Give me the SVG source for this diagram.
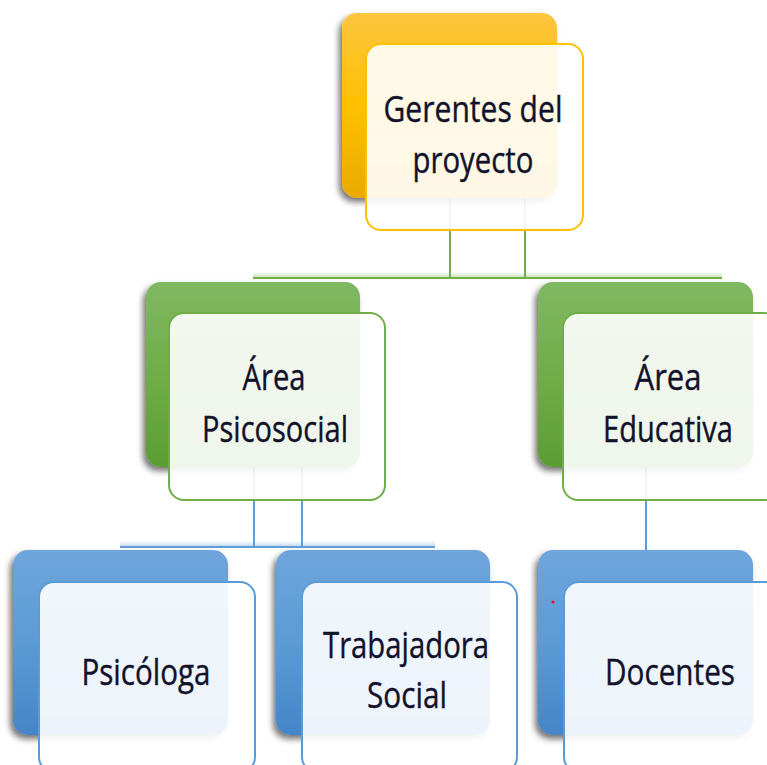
<svg xmlns="http://www.w3.org/2000/svg" width="767" height="765" viewBox="0 0 767 765">
  <defs>
    <linearGradient id="gOrange" x1="0" y1="0" x2="0" y2="1">
      <stop offset="0" stop-color="#fdc540"/>
      <stop offset="0.5" stop-color="#fec000"/>
      <stop offset="1" stop-color="#e9a900"/>
    </linearGradient>
    <linearGradient id="gGreen" x1="0" y1="0" x2="0" y2="1">
      <stop offset="0" stop-color="#80b862"/>
      <stop offset="0.5" stop-color="#70ad47"/>
      <stop offset="1" stop-color="#5c9d33"/>
    </linearGradient>
    <linearGradient id="gBlue" x1="0" y1="0" x2="0" y2="1">
      <stop offset="0" stop-color="#6fa5db"/>
      <stop offset="0.5" stop-color="#5b9bd5"/>
      <stop offset="1" stop-color="#4585c8"/>
    </linearGradient>
    <linearGradient id="glowG" x1="0" y1="0" x2="0" y2="1">
      <stop offset="0" stop-color="#70ad47" stop-opacity="0"/>
      <stop offset="1" stop-color="#70ad47" stop-opacity="0.35"/>
    </linearGradient>
    <linearGradient id="glowB" x1="0" y1="0" x2="0" y2="1">
      <stop offset="0" stop-color="#5b9bd5" stop-opacity="0"/>
      <stop offset="1" stop-color="#5b9bd5" stop-opacity="0.35"/>
    </linearGradient>
    <filter id="shadow" x="-20%" y="-20%" width="140%" height="140%">
      <feDropShadow dx="-3" dy="4" stdDeviation="3" flood-color="#000" flood-opacity="0.55"/>
    </filter>
  </defs>
  <style>
    .back { stroke: none; filter: url(#shadow); }
    .front { fill: #ffffff; fill-opacity: 0.9; stroke-width: 2; }
    .fo { stroke: #fec000; }
    .fg { stroke: #70ad47; }
    .fb { stroke: #5b9bd5; }
    .lbl { font-family: "Open Sans", "Noto Sans", "Liberation Sans", sans-serif; font-size: 37px; fill: #12122a; stroke: #12122a; stroke-width: 0.4; text-anchor: middle; }
    .cg { stroke: #72ae4c; stroke-width: 2; fill: none; }
    .cb { stroke: #5f9ed6; stroke-width: 2; fill: none; }
  </style>
  <rect width="767" height="765" fill="#ffffff"/>

  <g id="connectors">
    <path class="cg" d="M450,197 V278 M525,197 V278"/>
    <rect x="253" y="272" width="469" height="5" fill="url(#glowG)"/>
    <path class="cg" d="M253,278 H722"/>
    <path class="cb" d="M254,467 V547 M302,467 V547"/>
    <rect x="120" y="541" width="315" height="5" fill="url(#glowB)"/>
    <path class="cb" d="M120,547 H435"/>
    <path class="cb" d="M646,467 V551"/>
  </g>

  <g id="gerentes">
    <rect class="back" x="342" y="13" width="215" height="185" rx="15" fill="url(#gOrange)"/>
    <rect class="front fo" x="366" y="44" width="217" height="186" rx="15"/>
    <text class="lbl" x="473" y="122" textLength="179" lengthAdjust="spacingAndGlyphs">Gerentes del</text>
    <text class="lbl" x="473" y="173" textLength="121" lengthAdjust="spacingAndGlyphs">proyecto</text>
  </g>

  <g id="area-psicosocial">
    <rect class="back" x="146" y="282" width="214" height="185" rx="15" fill="url(#gGreen)"/>
    <rect class="front fg" x="169" y="313" width="216" height="187" rx="15"/>
    <text class="lbl" x="274" y="390" textLength="63" lengthAdjust="spacingAndGlyphs">Área</text>
    <text class="lbl" x="275" y="442" textLength="146" lengthAdjust="spacingAndGlyphs">Psicosocial</text>
  </g>

  <g id="area-educativa">
    <rect class="back" x="538" y="282" width="215" height="185" rx="15" fill="url(#gGreen)"/>
    <rect class="front fg" x="563" y="313" width="216" height="187" rx="15"/>
    <text class="lbl" x="668" y="390" textLength="67" lengthAdjust="spacingAndGlyphs">Área</text>
    <text class="lbl" x="668" y="442" textLength="130" lengthAdjust="spacingAndGlyphs">Educativa</text>
  </g>

  <g id="psicologa">
    <rect class="back" x="13" y="550" width="215" height="185" rx="15" fill="url(#gBlue)"/>
    <rect class="front fb" x="39" y="582" width="216" height="190" rx="15"/>
    <text class="lbl" x="146" y="685" textLength="129" lengthAdjust="spacingAndGlyphs">Psicóloga</text>
  </g>

  <g id="trabajadora-social">
    <rect class="back" x="276" y="550" width="214" height="185" rx="15" fill="url(#gBlue)"/>
    <rect class="front fb" x="302" y="582" width="215" height="190" rx="15"/>
    <text class="lbl" x="406" y="658" textLength="166" lengthAdjust="spacingAndGlyphs">Trabajadora</text>
    <text class="lbl" x="407" y="708" textLength="80" lengthAdjust="spacingAndGlyphs">Social</text>
  </g>

  <g id="docentes">
    <rect class="back" x="538" y="550" width="215" height="185" rx="15" fill="url(#gBlue)"/>
    <circle cx="553" cy="602" r="1.5" fill="#e0102a"/>
    <rect class="front fb" x="564" y="582" width="216" height="190" rx="15"/>
    <text class="lbl" x="670" y="685" textLength="130" lengthAdjust="spacingAndGlyphs">Docentes</text>
  </g>
</svg>
